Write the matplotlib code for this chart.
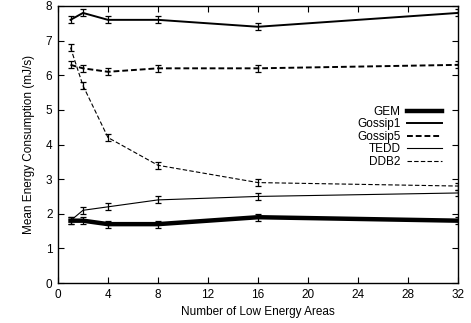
import matplotlib
matplotlib.use("Agg")
import matplotlib.pyplot as plt

x = [1, 2, 4, 8, 16, 32]
gem = [1.8, 1.8, 1.7, 1.7, 1.9, 1.8]
gossip1 = [7.6, 7.8, 7.6, 7.6, 7.4, 7.8]
gossip5 = [6.3, 6.2, 6.1, 6.2, 6.2, 6.3]
tedd = [1.8, 2.1, 2.2, 2.4, 2.5, 2.6]
ddb2 = [6.8, 5.7, 4.2, 3.4, 2.9, 2.8]
err = 0.1

plt.rcParams['font.family'] = ['Liberation Sans', 'DejaVu Sans']
fig = plt.figure(figsize=(4.71, 3.23), dpi=100)
ax = fig.add_axes([58/471, 1 - 283/323, (458-58)/471, (283-6)/323])

styles = [
    ("GEM", gem, dict(lw=3.2, ls='-')),
    ("Gossip1", gossip1, dict(lw=1.4, ls='-')),
    ("Gossip5", gossip5, dict(lw=1.4, ls=(0, (3, 1.5)))),
    ("TEDD", tedd, dict(lw=0.8, ls='-')),
    ("DDB2", ddb2, dict(lw=0.8, ls=(0, (4, 2)))),
]
for name, ys, st in styles:
    ax.plot(x, ys, color='black', label=name, **st)
    ax.errorbar(x, ys, yerr=err, fmt='none', ecolor='black', elinewidth=0.9,
                capsize=2.2, capthick=0.9)

ax.set_xlim(0, 32)
ax.set_ylim(0, 8)
ax.set_xticks(range(0, 33, 4))
ax.set_yticks(range(0, 9))
ax.tick_params(direction='in', top=True, right=True, labelsize=8.5, length=4, pad=4)
for s in ax.spines.values():
    s.set_linewidth(1.0)
ax.set_xlabel("Number of Low Energy Areas", fontsize=8.5, labelpad=4)
ax.set_ylabel("Mean Energy Consumption (mJ/s)", fontsize=8.5, labelpad=8)

leg = ax.legend(loc='upper right', bbox_to_anchor=(0.96, 0.64), frameon=False,
                fontsize=8.5, markerfirst=False, handlelength=3.0,
                labelspacing=0.05, handletextpad=0.5, borderaxespad=0, borderpad=0)
for t in leg.get_texts():
    t.set_ha('right')

fig.savefig("out.png", dpi=100)
